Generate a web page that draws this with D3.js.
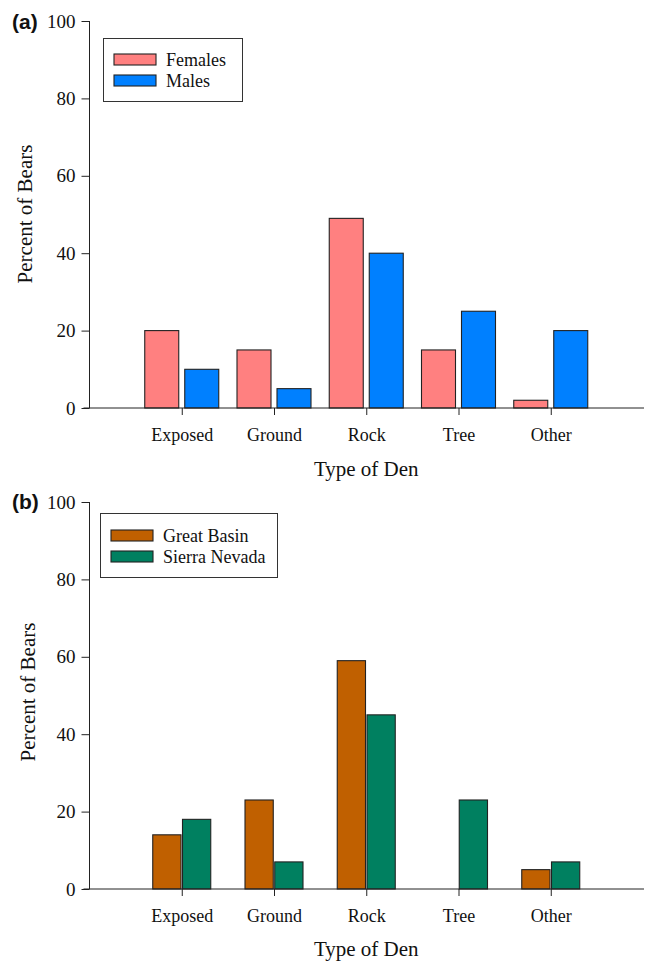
<!DOCTYPE html>
<html>
<head>
<meta charset="utf-8">
<script src="https://cdn.jsdelivr.net/npm/d3@7"></script>
<style>
  html, body { margin: 0; padding: 0; background: #fff; }
  svg { display: block; }
</style>
</head>
<body>
<svg id="chart" width="645" height="963"></svg>
<script>
// ---- data ----
const categories = ["Exposed", "Ground", "Rock", "Tree", "Other"];
const yTicks = [0, 20, 40, 60, 80, 100];

const seriesA = ["Females", "Males"];
const femalesPct = [20, 15, 49, 15, 2];
const malesPct = [10, 5, 40, 25, 20];

const seriesB = ["Great Basin", "Sierra Nevada"];
const greatBasinPct = [14, 23, 59, 0, 5];
const sierraNevadaPct = [18, 7, 45, 23, 7];

const colorsA = ["#ff8080", "#0080ff"];
const colorsB = ["#c06000", "#008060"];

const svg = d3.select("#chart");
const serif = "'Liberation Serif', 'Times New Roman', serif";

function panel(opts) {
  const g = svg.append("g");
  const x = d3.scaleLinear().domain([0, 6]).range([89.5, 643]);
  const y = d3.scaleLinear().domain([0, 100]).range([opts.y0, opts.y100]);
  const sub = d3.scaleBand().domain(opts.series).range(opts.subRange).paddingInner(opts.pad);

  const rows = categories.map((c, i) => ({ cat: c, idx: i + 1, vals: opts.values.map(v => v[i]) }));

  // bars
  rows.forEach(r => {
    opts.series.forEach((s, si) => {
      const v = r.vals[si];
      if (v <= 0) return;
      g.append("rect")
        .attr("x", x(r.idx) + sub(s))
        .attr("y", y(v))
        .attr("width", sub.bandwidth())
        .attr("height", y(0) - y(v))
        .attr("fill", opts.colors[si])
        .attr("stroke", "#222")
        .attr("stroke-width", 1.1);
    });
  });

  // y axis
  const yAxis = d3.axisLeft(y).tickValues(yTicks).tickSize(8).tickPadding(6).tickFormat(d3.format("d"));
  const ya = g.append("g").attr("transform", `translate(${x(0)},0)`).call(yAxis);
  ya.select(".domain").attr("stroke", "#222").attr("d", `M0,${y(0)}V${y(100)}`);
  ya.selectAll(".tick line").attr("stroke", "#222");
  ya.selectAll(".tick text").attr("font-family", serif).attr("font-size", 19).attr("fill", "#111");

  // x axis
  const xAxis = d3.axisBottom(x).tickValues(categories.map((c, i) => i + 1))
    .tickSize(7).tickPadding(13).tickFormat((d) => categories[d - 1]);
  const xa = g.append("g").attr("transform", `translate(0,${y(0)})`).call(xAxis);
  xa.select(".domain").attr("stroke", "#222").attr("d", `M${x(0) - 6},0H644`);
  xa.selectAll(".tick line").attr("stroke", "#222");
  xa.selectAll(".tick text").attr("font-family", serif).attr("font-size", 18).attr("fill", "#111");

  // axis titles
  g.append("text")
    .attr("transform", `translate(${opts.yLabelX},${opts.yLabelY}) rotate(-90)`)
    .attr("text-anchor", "middle")
    .attr("font-family", serif).attr("font-size", 21).attr("fill", "#111")
    .text("Percent of Bears");
  g.append("text")
    .attr("x", x(3)).attr("y", opts.xLabelY)
    .attr("text-anchor", "middle")
    .attr("font-family", serif).attr("font-size", 21).attr("fill", "#111")
    .text("Type of Den");

  // panel letter
  g.append("text")
    .attr("x", 12).attr("y", opts.letterY)
    .attr("font-family", "'Liberation Sans', Arial, sans-serif")
    .attr("font-weight", "bold").attr("font-size", 21).attr("fill", "#111")
    .text(opts.letter);

  // legend
  const L = opts.legend;
  g.append("rect").attr("x", L.x).attr("y", L.y).attr("width", L.w).attr("height", L.h)
    .attr("fill", "#fff").attr("stroke", "#333").attr("stroke-width", 1);
  opts.series.forEach((s, si) => {
    const cy = L.rowY[si];
    g.append("rect").attr("x", L.sx).attr("y", cy - 5.5).attr("width", 42).attr("height", 11)
      .attr("fill", opts.colors[si]).attr("stroke", "#222").attr("stroke-width", 1.1);
    g.append("text").attr("x", L.tx).attr("y", cy + 6)
      .attr("font-family", serif).attr("font-size", 18).attr("fill", "#111")
      .text(s);
  });
}

panel({
  y0: 408, y100: 21,
  series: seriesA, values: [femalesPct, malesPct], colors: colorsA,
  subRange: [-37, 37], pad: 0.15,
  yLabelX: 32, yLabelY: 214, xLabelY: 476, letter: "(a)", letterY: 29,
  legend: { x: 103.5, y: 38.5, w: 139, h: 63, sx: 114, tx: 166, rowY: [59.5, 80.5] }
});

panel({
  y0: 889, y100: 502,
  series: seriesB, values: [greatBasinPct, sierraNevadaPct], colors: colorsB,
  subRange: [-29, 29], pad: 0.05,
  yLabelX: 35, yLabelY: 692, xLabelY: 956, letter: "(b)", letterY: 509,
  legend: { x: 100.5, y: 513.5, w: 177, h: 64, sx: 111, tx: 163, rowY: [535.5, 556.5] }
});
</script>
</body>
</html>
